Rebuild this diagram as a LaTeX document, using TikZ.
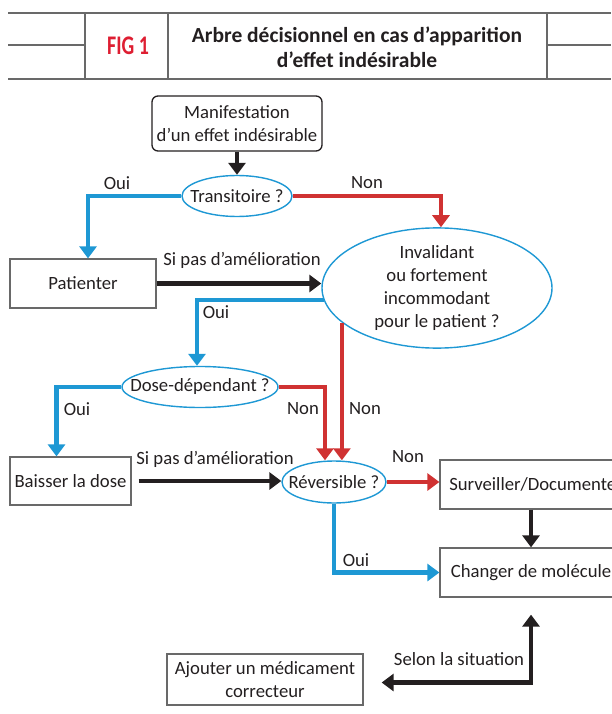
\documentclass[tikz,border=0pt]{standalone}
\usepackage{fontspec}
\setmainfont{Carlito}
\usetikzlibrary{shapes.geometric, arrows.meta, positioning}
\definecolor{ouiblue}{RGB}{30,152,212}
\definecolor{nonred}{RGB}{208,50,50}
\definecolor{inkblack}{RGB}{35,31,32}
\definecolor{rulegray}{RGB}{105,105,105}
\definecolor{figred}{RGB}{222,30,50}
\newcommand{\tight}[1]{\makebox[0pt]{#1}}

\begin{document}
\begin{tikzpicture}[
    x=1pt, y=-1pt,
    font=\fontsize{18.7}{23}\selectfont, text=inkblack,
    box/.style={rectangle, draw=rulegray, line width=1.3pt, inner sep=0pt, align=center},
    question/.style={ellipse, draw=ouiblue, line width=1.4pt, inner sep=0pt, align=center},
    flow/.style={-{Triangle[width=17pt,length=12pt]}, line width=4.5pt, inkblack},
    both/.style={flow, {Triangle[width=17pt,length=12pt]}-{Triangle[width=17pt,length=12pt]}},
    oui/.style={flow, ouiblue},
    non/.style={flow, nonred},
    rule/.style={draw=rulegray, line width=1.8pt}
]
    \useasboundingbox (0,0) rectangle (611,714);

    % Header
    \draw[rule] (8,13) -- (611,13);
    \draw[rule] (8,79) -- (611,79);
    \draw[rule] (8,45) -- (85,45);
    \draw[rule] (547,45) -- (611,45);
    \draw[rule] (85,13) -- (85,79);
    \draw[rule] (168,13) -- (168,79);
    \draw[rule] (547,13) -- (547,79);
    \node[font=\fontsize{24}{28}\selectfont\bfseries, text=figred, xscale=0.83, yscale=1.12, transform shape]
        (figno) at (128,46) {FIG 1};
    \node[font=\fontsize{21.5}{25}\selectfont\bfseries, align=center] (title) at (357,47.5)
        {Arbre décisionnel en cas d’apparition\\d’effet indésirable};

    % Questions
    \node[box, draw=inkblack, rounded corners=6pt, minimum width=170pt, minimum height=55pt] (start) at (237,123.5)
        {Manifestation\\d’un effet indésirable};
    \node[question, minimum width=110pt, minimum height=41pt] (trans) at (237,196) {\tight{Transitoire ?}};
    \node[question, minimum width=230pt, minimum height=116pt] (inval) at (437,288)
        {\tight{Invalidant}\\\tight{ou fortement}\\\tight{incommodant}\\\tight{pour le patient ?}};
    \node[question, minimum width=156pt, minimum height=41pt] (dose) at (200,387) {\tight{Dose-dépendant ?}};
    \node[question, minimum width=104pt, minimum height=42pt] (rev) at (334,482) {\tight{Réversible ?}};

    % Actions
    \node[box, minimum width=146pt, minimum height=49pt] (patienter) at (83,283.5) {Patienter};
    \node[box, minimum width=121pt, minimum height=48pt] (baisser) at (70.5,481) {Baisser la dose};
    \node[box, minimum width=192pt, minimum height=49pt] (surv) at (536,484.5) {Surveiller/Documenter};
    \node[box, minimum width=182pt, minimum height=49pt] (changer) at (531,572.5) {Changer de molécule};
    \node[box, minimum width=196pt, minimum height=51pt] (ajouter) at (265,679.5)
        {Ajouter un médicament\\correcteur};

    % Connections
    \draw[flow] (start) -- (trans);
    \draw[oui] (trans.west) -| ([xshift=5pt]patienter.north);
    \draw[non] (trans.east) -| ([xshift=4pt]inval.north);
    \draw[flow] (patienter.east) -- (patienter.east -| inval.west);
    \draw[oui] (inval.186) -| ([xshift=-3pt]dose.north);
    \draw[non] (inval.200) -- (inval.200 |- rev.north);
    \draw[non] (dose.east) -| ([xshift=-9pt]rev.north);
    \draw[oui] (dose.west) -| ([xshift=-14pt]baisser.north);
    \draw[flow, shorten <=7pt] (baisser.east) -- (baisser.east -| rev.west);
    \draw[non] (rev.east) -- (rev.east -| surv.west);
    \draw[flow] (surv.south -| changer.north) -- (changer.north);
    \draw[oui] (rev.south) |- (changer.west);
    \draw[both, shorten <=18pt] ([yshift=-3pt]ajouter.east) -| ([yshift=-17pt]changer.south);

    % Branch labels
    \node (lbl-oui1) at (117,183) {Oui};
    \node (lbl-non1) at (367,183) {Non};
    \node (lbl-sipas1) at (242,260) {Si pas d’amélioration};
    \node (lbl-oui2) at (216,312) {Oui};
    \node (lbl-non2) at (365,409) {Non};
    \node (lbl-oui3) at (77,409) {Oui};
    \node (lbl-non3) at (303,409) {Non};
    \node (lbl-sipas2) at (215,459) {Si pas d’amélioration};
    \node (lbl-non4) at (408,457) {Non};
    \node (lbl-oui4) at (356,560) {Oui};
    \node (lbl-selon) at (459,659) {Selon la situation};

\end{tikzpicture}
\end{document}
